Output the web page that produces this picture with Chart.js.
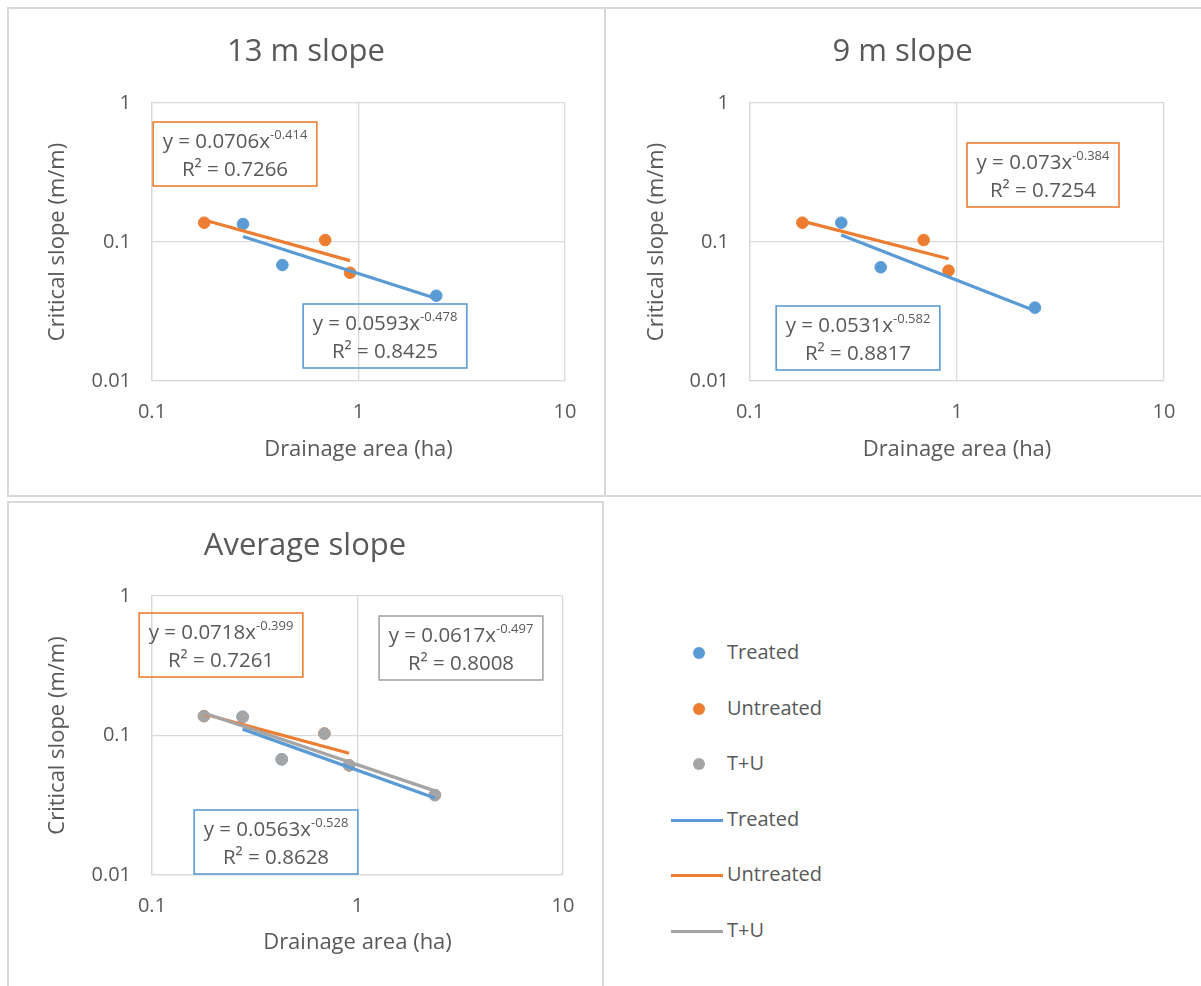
<!DOCTYPE html>
<html>
<head>
<meta charset="utf-8">
<script src="https://cdn.jsdelivr.net/npm/chart.js@4.4.1/dist/chart.umd.min.js"></script>
<style>
  body { margin: 0; background: #fff; width: 1201px; height: 986px; overflow: hidden; position: relative; font-family: "Open Sans", sans-serif; }
  .panel { position: absolute; box-sizing: border-box; border: 2px solid #d9d9d9; }
  canvas { position: absolute; }
  .leg { position: absolute; font-size: 20px; color: #595959; line-height: 24px; white-space: nowrap; }
  .leg i { position: absolute; display: block; }
</style>
</head>
<body>
<div class="panel" style="left:7px;top:7px;width:599px;height:490px"></div>
<div class="panel" style="left:604px;top:7px;width:620px;height:490px"></div>
<div class="panel" style="left:7px;top:501px;width:597px;height:500px"></div>
<canvas id="c13" width="597" height="488" style="left:8px;top:8px"></canvas>
<canvas id="c9" width="596" height="488" style="left:605px;top:8px"></canvas>
<canvas id="cavg" width="595" height="483" style="left:8px;top:503px"></canvas>
<div id="legend"></div>
<script>
// drainage area (ha) of the plots
const treatedArea = [0.276, 0.428, 2.38];
const untreatedArea = [0.179, 0.69, 0.91];

// critical slope (m/m)
const treated13 = [0.1347, 0.0683, 0.0411];
const untreated13 = [0.1377, 0.1033, 0.0601];
const treated9 = [0.1377, 0.0658, 0.0337];
const untreated9 = [0.1377, 0.1033, 0.0622];
const treatedAvg = [0.136, 0.0675, 0.0374];
const untreatedAvg = [0.1377, 0.1033, 0.0611];

// power trend lines: [a, b, R²] for y = a * x^b
const fitTreated13 = [0.0593, -0.478, 0.8425];
const fitUntreated13 = [0.0706, -0.414, 0.7266];
const fitTreated9 = [0.0531, -0.582, 0.8817];
const fitUntreated9 = [0.073, -0.384, 0.7254];
const fitTreatedAvg = [0.0563, -0.528, 0.8628];
const fitUntreatedAvg = [0.0718, -0.399, 0.7261];
const fitBothAvg = [0.0617, -0.497, 0.8008];

const xTicks = [0.1, 1, 10];
const yTicks = [0.01, 0.1, 1];

const BLUE = '#5b9bd5', ORANGE = '#ed7d31', GRAY = '#a5a5a5', TEXT = '#595959', GRID = '#d9d9d9';
const FONT = '"Open Sans", sans-serif';

function pts(xs, ys) {
    return xs.map((x, i) => ({ x: x, y: ys[i] }));
}

// straight line on log-log axes between the smallest and largest area
function trend(fit, xs) {
    const lo = Math.min(...xs), hi = Math.max(...xs);
    return [lo, hi].map(x => ({ x: x, y: fit[0] * Math.pow(x, fit[1]) }));
}

function pointSet(label, data, color, order) {
    return { type: 'scatter', label: label, data: data, order: order, backgroundColor: color, borderColor: color,
        pointRadius: 5.8, pointBorderWidth: 1, pointHoverRadius: 5.8 };
}

function lineSet(label, data, color, order) {
    return { type: 'line', label: label, data: data, order: order, borderColor: color, backgroundColor: color,
        borderWidth: 3.2, pointRadius: 0, fill: false, tension: 0 };
}

// equation + R² boxes, centred at given offsets from the plot's top-left corner
const fitBoxes = {
    id: 'fitBoxes',
    afterDatasetsDraw(chart, args, o) {
        const ctx = chart.ctx, area = chart.chartArea;
        o.boxes.forEach(b => {
            const main = 'y = ' + b.fit[0] + 'x';
            const sup = String(b.fit[1]);
            const r2 = 'R\u00b2 = ' + b.fit[2];
            ctx.save();
            ctx.font = '20.5px ' + FONT;
            const wMain = ctx.measureText(main).width;
            const wR2 = ctx.measureText(r2).width;
            ctx.font = '13px ' + FONT;
            const wSup = ctx.measureText(sup).width;
            const w1 = wMain + wSup;
            const w = Math.max(w1, wR2) + 19, h = 64;
            const cx = area.left + b.at[0], cy = area.top + b.at[1];
            ctx.strokeStyle = b.color;
            ctx.lineWidth = 1.6;
            ctx.strokeRect(cx - w / 2, cy - h / 2, w, h);
            ctx.fillStyle = TEXT;
            ctx.textBaseline = 'middle';
            ctx.textAlign = 'left';
            ctx.font = '20.5px ' + FONT;
            ctx.fillText(main, cx - w1 / 2, cy - 12);
            ctx.font = '13px ' + FONT;
            ctx.fillText(sup, cx - w1 / 2 + wMain, cy - 19);
            ctx.font = '20.5px ' + FONT;
            ctx.textAlign = 'center';
            ctx.fillText(r2, cx, cy + 16);
            ctx.restore();
        });
    }
};

function slopeChart(id, cfg) {
    const tickFont = { family: FONT, size: 20 };
    const titleFont = { family: FONT, size: 22 };
    return new Chart(document.getElementById(id), {
        data: { datasets: cfg.datasets },
        plugins: [fitBoxes],
        options: {
            responsive: false,
            animation: false,
            devicePixelRatio: 1,
            events: [],
            layout: { padding: { left: cfg.padLeft, top: 0, right: cfg.padRight, bottom: 0 } },
            plugins: {
                legend: { display: false },
                tooltip: { enabled: false },
                title: {
                    display: true, text: cfg.title, color: TEXT,
                    font: { family: FONT, size: 31, weight: 'normal' },
                    padding: { top: cfg.titleTop, bottom: cfg.titleBottom }
                },
                fitBoxes: { boxes: cfg.boxes }
            },
            scales: {
                x: {
                    type: 'logarithmic', position: 'bottom', min: 0.1, max: 10,
                    afterBuildTicks: s => { s.ticks = xTicks.map(v => ({ value: v })); },
                    afterFit: s => { s.height = cfg.xHeight; },
                    grid: { color: GRID, lineWidth: 1.3, drawTicks: false },
                    border: { color: GRID, width: 1.3 },
                    ticks: { color: TEXT, font: tickFont, padding: 19, maxRotation: 0, callback: v => String(v) },
                    title: { display: true, text: 'Drainage area (ha)', color: TEXT, font: titleFont, padding: { bottom: cfg.xTitlePad } }
                },
                y: {
                    type: 'logarithmic', position: 'left', min: 0.01, max: 1,
                    afterBuildTicks: s => { s.ticks = yTicks.map(v => ({ value: v })); },
                    afterFit: s => { s.width = cfg.yWidth; },
                    grid: { color: GRID, lineWidth: 1.3, drawTicks: false },
                    border: { color: GRID, width: 1.3 },
                    ticks: { color: TEXT, font: tickFont, padding: 21, callback: v => String(v) },
                    title: { display: true, text: 'Critical slope (m/m)', color: TEXT, font: titleFont, padding: { top: cfg.yTitlePad } }
                }
            }
        }
    });
}

slopeChart('c13', {
    title: '13 m slope', padLeft: 39, padRight: 40, titleTop: 26, titleBottom: 31.8, xHeight: 115, yWidth: 105,
    xTitlePad: 33, yTitlePad: -2,
    datasets: [
        lineSet('Treated', trend(fitTreated13, treatedArea), BLUE, 1),
        lineSet('Untreated', trend(fitUntreated13, untreatedArea), ORANGE, 0),
        pointSet('Treated', pts(treatedArea, treated13), BLUE, 3),
        pointSet('Untreated', pts(untreatedArea, untreated13), ORANGE, 2)
    ],
    boxes: [
        { fit: fitUntreated13, color: ORANGE, at: [83, 51] },
        { fit: fitTreated13, color: BLUE, at: [233, 233] }
    ]
});

slopeChart('c9', {
    title: '9 m slope', padLeft: 36, padRight: 37, titleTop: 26, titleBottom: 31.8, xHeight: 115, yWidth: 109,
    xTitlePad: 33, yTitlePad: 3,
    datasets: [
        lineSet('Treated', trend(fitTreated9, treatedArea), BLUE, 1),
        lineSet('Untreated', trend(fitUntreated9, untreatedArea), ORANGE, 0),
        pointSet('Treated', pts(treatedArea, treated9), BLUE, 3),
        pointSet('Untreated', pts(untreatedArea, untreated9), ORANGE, 2)
    ],
    boxes: [
        { fit: fitUntreated9, color: ORANGE, at: [293, 72] },
        { fit: fitTreated9, color: BLUE, at: [108, 235] }
    ]
});

const bothArea = treatedArea.concat(untreatedArea);
const bothAvg = treatedAvg.concat(untreatedAvg);

const avgChart = slopeChart('cavg', {
    title: 'Average slope', padLeft: 39, padRight: 40, titleTop: 25, titleBottom: 30.8, xHeight: 111, yWidth: 105,
    xTitlePad: 30, yTitlePad: -2,
    datasets: [
        pointSet('Treated', pts(treatedArea, treatedAvg), BLUE, 5),
        pointSet('Untreated', pts(untreatedArea, untreatedAvg), ORANGE, 4),
        pointSet('T+U', pts(bothArea, bothAvg), GRAY, 3),
        lineSet('Treated', trend(fitTreatedAvg, treatedArea), BLUE, 2),
        lineSet('Untreated', trend(fitUntreatedAvg, untreatedArea), ORANGE, 1),
        lineSet('T+U', trend(fitBothAvg, bothArea), GRAY, 0)
    ],
    boxes: [
        { fit: fitUntreatedAvg, color: ORANGE, at: [69, 49] },
        { fit: fitBothAvg, color: GRAY, at: [309, 52] },
        { fit: fitTreatedAvg, color: BLUE, at: [124, 246] }
    ]
});

// legend for the average chart, one row per dataset
const legend = document.getElementById('legend');
avgChart.data.datasets.forEach((ds, i) => {
    const y = 653 + i * 55.6;
    const row = document.createElement('div');
    row.className = 'leg';
    row.style.left = '727px';
    row.style.top = (y - 13) + 'px';
    row.textContent = ds.label;
    const mark = document.createElement('i');
    if (ds.type === 'scatter') {
        mark.style.cssText = 'left:-34px;top:7px;width:12px;height:12px;border-radius:50%;background:' + ds.backgroundColor;
    } else {
        mark.style.cssText = 'left:-56px;top:12px;width:52px;height:3px;background:' + ds.borderColor;
    }
    row.appendChild(mark);
    legend.appendChild(row);
});
</script>
</body>
</html>
